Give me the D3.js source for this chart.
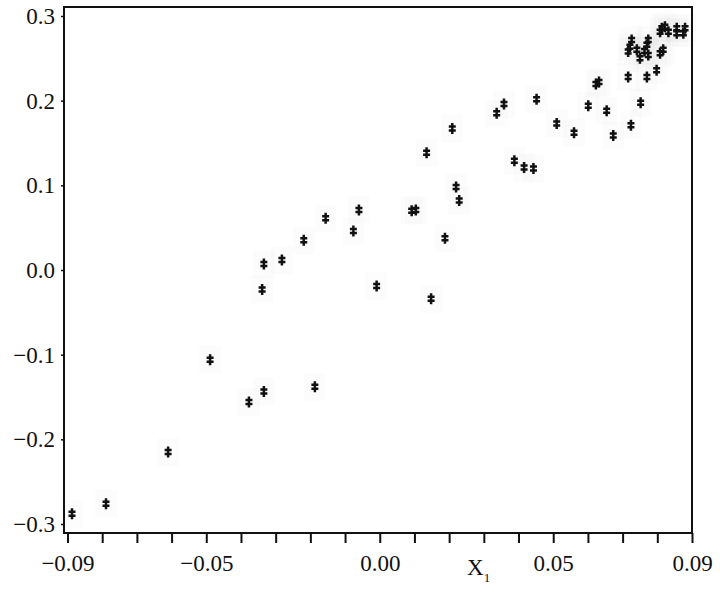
<!DOCTYPE html>
<html>
<head>
<meta charset="utf-8">
<script src="https://cdn.jsdelivr.net/npm/d3@7"></script>
<style>
  html, body { margin: 0; padding: 0; background: #fff; }
  svg { display: block; }
  text { font-family: "Liberation Serif", "Times New Roman", serif; fill: #111; }
</style>
</head>
<body>
<svg id="chart" width="720" height="597"></svg>
<script>
// X1 values of each point
const xValues = [
  -0.0887, -0.0789, -0.0610, -0.0489, -0.0377, -0.0334, -0.0339, -0.0334, -0.0282, -0.0219,
  -0.0156, -0.0076, -0.0060, -0.0187, -0.0009, 0.0092, 0.0104, 0.0148, 0.0135, 0.0188,
  0.0209, 0.0220, 0.0229, 0.0337, 0.0358, 0.0388, 0.0416, 0.0443, 0.0452, 0.0510,
  0.0560, 0.0601, 0.0623, 0.0632, 0.0654, 0.0673, 0.0724, 0.0752, 0.0716, 0.0770,
  0.0798, 0.0726, 0.0721, 0.0741, 0.0716, 0.0770, 0.0774, 0.0763, 0.0774, 0.0750,
  0.0808, 0.0817, 0.0813, 0.0822, 0.0808, 0.0832, 0.0856, 0.0856, 0.0880, 0.0875
];
// Y values of each point
const yValues = [
  -0.288, -0.276, -0.215, -0.106, -0.156, -0.1435, -0.023, 0.007, 0.0118, 0.035,
  0.061, 0.046, 0.071, -0.138, -0.019, 0.070, 0.071, -0.034, 0.1385, 0.0374,
  0.167, 0.098, 0.082, 0.185, 0.196, 0.129, 0.121, 0.120, 0.2016, 0.173,
  0.162, 0.194, 0.2197, 0.222, 0.188, 0.159, 0.171, 0.1976, 0.228, 0.228,
  0.236, 0.2716, 0.2637, 0.260, 0.258, 0.266, 0.2716, 0.2587, 0.254, 0.250,
  0.256, 0.260, 0.2855, 0.2874, 0.2815, 0.2815, 0.2855, 0.2796, 0.2855, 0.2796
];
const xTickValues = [-0.09,-0.08,-0.07,-0.06,-0.05,-0.04,-0.03,-0.02,-0.01,0.00,0.01,0.02,0.03,0.04,0.05,0.06,0.07,0.08,0.09];
const xTickLabels = ["\u22120.09","","","","\u22120.05","","","","","0.00","","","","","0.05","","","","0.09"];
const yTickValues = [0.3,0.2,0.1,0.0,-0.1,-0.2,-0.3];
const yTickLabels = ["0.3","0.2","0.1","0.0","\u22120.1","\u22120.2","\u22120.3"];

const svg = d3.select("#chart");
const box = {left: 64, right: 692, top: 7, bottom: 533};

const x = d3.scaleLinear().domain([-0.09, 0.09]).range([67.5, 692]);
const y = d3.scaleLinear().domain([-0.3, 0.3]).range([524, 16]);

// faint halos (jpeg-like shading around markers)
svg.append("g").selectAll("rect")
  .data(xValues)
  .join("rect")
  .attr("x", (d) => x(d) - 11)
  .attr("y", (d, i) => y(yValues[i]) - 14)
  .attr("width", 22)
  .attr("height", 28)
  .attr("fill", "#000")
  .attr("opacity", 0.012);

// markers
const marker = "M0,-5.5V5.5M-3.5,-2H3.5M-3.5,2H3.5";
svg.append("g").selectAll("path")
  .data(xValues)
  .join("path")
  .attr("transform", (d, i) => `translate(${x(d)},${y(yValues[i])})`)
  .attr("d", marker)
  .attr("stroke", "#111")
  .attr("stroke-width", 2.5)
  .attr("fill", "none");

// frame
svg.append("rect")
  .attr("x", box.left).attr("y", box.top)
  .attr("width", box.right - box.left).attr("height", box.bottom - box.top)
  .attr("fill", "none").attr("stroke", "#111").attr("stroke-width", 2);

// x axis
const xAxis = d3.axisBottom(x)
  .tickValues(xTickValues)
  .tickSize(10)
  .tickPadding(12)
  .tickFormat((d, i) => xTickLabels[i]);
const gx = svg.append("g").attr("transform", `translate(0,${box.bottom})`).call(xAxis);
gx.select(".domain").remove();
gx.selectAll(".tick line").attr("stroke", "#111").attr("stroke-width", 2);
gx.selectAll(".tick text").attr("font-size", 23).attr("font-family", "Liberation Serif").attr("fill", "#111");

// y axis
const yAxis = d3.axisLeft(y)
  .tickValues(yTickValues)
  .tickSize(3)
  .tickPadding(6)
  .tickFormat((d, i) => yTickLabels[i]);
const gy = svg.append("g").attr("transform", `translate(${box.left},0)`).call(yAxis);
gy.select(".domain").remove();
gy.selectAll(".tick line").attr("stroke", "#111").attr("stroke-width", 1.5);
gy.selectAll(".tick text").attr("font-size", 23).attr("font-family", "Liberation Serif").attr("fill", "#111");

// x axis title
const title = svg.append("text")
  .attr("x", 467)
  .attr("y", 575)
  .attr("font-size", 23);
title.append("tspan").text("X");
title.append("tspan").attr("font-size", 13).attr("dy", 7).text("1");
</script>
</body>
</html>
